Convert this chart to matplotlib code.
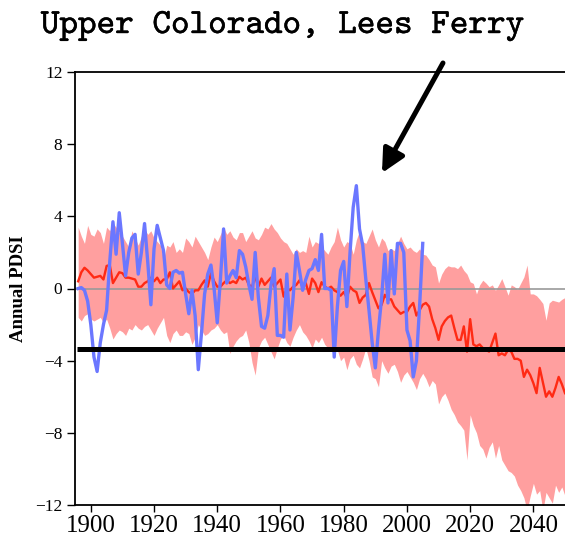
import numpy as np
import matplotlib
matplotlib.use("Agg")
import matplotlib.pyplot as plt
import matplotlib.patheffects as pe

# Model period (annual)
model_years = np.arange(1896, 2051)

ens_mean = [
    0.4, 0.9, 1.15, 1.0, 0.8, 0.6, 0.65, 0.7, 0.5, 1.25,          # 1896-1905
    1.3, 0.3, 0.6, 0.9, 0.85, 0.6, 0.6, 0.55, 0.5, 0.1,           # 1906-1915
    0.1, 0.3, 0.4, 0.6, 0.4, 0.6, 0.3, 0.5, 0.5, 0.9,             # 1916-1925
    0.0, 0.2, 0.4, -0.1, 0.0, -0.2, -0.3, -0.1, -0.1, 0.2,        # 1926-1935
    0.45, 0.1, 0.85, 0.4, 0.1, 0.1, 0.3, 0.45, 0.3, 0.4,          # 1936-1945
    0.3, 0.65, 0.5, 0.6, 0.2, 0.1, 0.65, 0.1, 0.55, 0.2,          # 1946-1955
    0.4, 0.6, 0.1, 0.3, 0.5, -0.45, 0.0, -0.1, 0.1, 0.2,          # 1956-1965
    0.45, 0.1, 0.3, -0.3, 0.55, 0.3, -0.2, 0.35, 0.1, 0.0,        # 1966-1975
    0.1, -0.1, -0.2, -0.4, -0.2, -0.5, 0.1, -0.1, -0.2, -0.8,     # 1976-1985
    -0.5, -0.35, 0.3, -0.2, -0.65, -1.1, -0.9, -0.35, -0.6, -0.6, # 1986-1995
    -1.0, -1.2, -1.4, -1.3, -1.3, -1.0, -0.8, -1.5, -1.2, -0.9,   # 1996-2005
    -0.8, -1.0, -1.7, -2.2, -2.85, -2.1, -1.8, -1.6, -1.5, -2.2,  # 2006-2015
    -2.85, -2.85, -2.1, -3.5, -1.7, -3.1, -3.2, -3.1, -3.3, -3.4, # 2016-2025
    -3.5, -3.0, -2.5, -3.7, -3.6, -3.7, -3.4, -3.5, -3.9, -3.9,   # 2026-2035
    -4.0, -4.9, -4.5, -4.8, -5.25, -5.8, -4.4, -5.2, -6.0, -5.7,  # 2036-2045
    -6.0, -5.5, -4.9, -5.3, -5.8,                                 # 2046-2050
]

ens_upper = [
    3.4, 2.9, 2.5, 3.5, 3.0, 2.9, 3.3, 3.1, 2.5, 3.4,
    3.2, 3.6, 3.4, 3.1, 2.9, 2.6, 2.3, 3.2, 2.8, 2.4,
    2.9, 3.3, 3.0, 3.2, 2.8, 2.6, 2.4, 1.6, 2.4, 2.3,
    2.6, 2.0, 2.2, 2.0, 2.8, 2.6, 2.3, 2.9, 2.6, 2.3,
    2.0, 1.6, 2.3, 2.85, 2.6, 3.0, 3.4, 3.0, 3.2, 2.85,
    2.7, 3.1, 3.1, 2.6, 2.9, 3.2, 2.8, 2.7, 3.0, 3.4,
    3.3, 3.6, 3.3, 3.1, 2.8, 2.6, 2.5, 2.2, 1.9, 2.2,
    2.0, 2.1, 2.0, 2.9, 2.3, 2.6, 2.5, 2.3, 2.1, 1.9,
    2.3, 2.6, 3.4, 2.7, 2.3, 2.6, 2.5, 1.9, 2.7, 3.2,
    2.6, 2.5, 2.9, 3.3, 2.7, 2.3, 2.8, 2.6, 2.1, 2.2,
    2.1, 2.5, 2.9, 2.5, 2.2, 2.3, 2.1, 2.0, 2.2, 1.9,
    1.85, 1.6, 1.3, 1.2, 0.3, 0.8, 1.1, 1.26, 1.2, 1.2,
    1.1, 1.3, 1.0, 0.8, 0.37, 0.28, -0.3, 0.2, 0.46, 0.3,
    0.1, 0.2, -0.1, 0.2, 0.55, 0.1, -0.37, 0.2, 0.1, -0.05,
    0.3, 0.64, 1.3, -0.3, -0.3, -0.4, -0.6, -0.83, -1.76, -0.8,
    -0.65, -0.7, -0.75, -0.6, -0.5,
]

ens_lower = [
    -1.6, -1.8, -1.5, -1.4, -1.7, -1.8, -1.7, -1.6, -1.9, -1.7,
    -2.2, -2.8, -2.5, -2.3, -2.4, -2.6, -2.2, -2.3, -2.0, -2.2,
    -2.3, -2.1, -2.0, -2.3, -2.6, -2.2, -1.9, -1.6, -2.6, -3.0,
    -2.5, -2.3, -2.6, -2.6, -2.4, -2.5, -3.1, -2.7, -2.0, -2.3,
    -2.6, -2.5, -2.3, -2.2, -2.0, -2.3, -2.5, -2.4, -3.6, -3.2,
    -2.9, -2.7, -2.6, -2.3, -3.0, -4.1, -4.8, -3.3, -2.9, -2.7,
    -3.1, -3.5, -3.9, -3.3, -2.8, -2.6, -3.0, -3.2, -2.7, -2.3,
    -2.0, -2.4, -2.6, -2.9, -3.3, -2.8, -3.0, -2.7, -3.1, -3.3,
    -3.5, -3.0, -3.4, -4.0, -3.8, -4.5, -3.9, -3.7, -4.2, -4.4,
    -3.9, -3.3, -4.0, -4.9, -5.0, -5.45, -4.0, -4.4, -4.7, -4.3,
    -4.2, -4.6, -5.2, -4.8, -4.6, -4.9, -5.2, -5.6, -5.0, -4.7,
    -5.0, -5.45, -5.1, -5.3, -6.4, -6.0, -5.8, -6.2, -6.7, -7.0,
    -7.4, -7.6, -7.85, -9.5, -7.0, -7.6, -8.0, -8.7, -8.9, -9.4,
    -8.8, -8.5, -9.4, -8.7, -9.5, -9.8, -10.1, -10.2, -10.4, -10.9,
    -11.2, -11.6, -12.3, -11.5, -10.8, -11.4, -11.2, -12.3, -11.3, -11.6,
    -11.9, -10.9, -11.3, -11.0, -11.5,
]

# Observed annual PDSI
obs_years = np.arange(1896, 2006)
obs_pdsi = [
    0.0, 0.05, -0.1, -0.7, -2.0, -3.8, -4.6, -3.0, -2.0, -1.2,    # 1896-1905
    1.5, 3.7, 1.9, 4.2, 2.5, 0.7, 2.0, 2.8, 3.0, 0.8,             # 1906-1915
    2.0, 3.6, 1.5, -0.9, 2.2, 3.5, 2.8, 2.1, 0.2, 0.0,            # 1916-1925
    0.9, 1.0, 0.85, 0.9, -0.3, -1.4, -0.1, -1.5, -4.5, -2.5,      # 1926-1935
    -0.3, 0.8, 1.3, 0.0, -1.9, 0.5, 3.3, 0.3, 0.7, 1.0,           # 1936-1945
    0.6, 2.1, 1.9, 1.2, 0.2, -0.6, 2.0, -0.5, -2.1, -2.2,         # 1946-1955
    -1.5, 0.2, 1.1, -2.6, -2.6, -2.7, 0.8, -2.3, -0.5, 2.0,       # 1956-1965
    1.0, -0.1, 0.5, 1.0, 1.1, 1.6, 1.0, 3.0, 0.0, 0.0,            # 1966-1975
    -0.1, -3.8, -1.0, 1.0, 1.5, -1.0, 2.0, 4.5, 5.7, 3.3,         # 1976-1985
    2.4, 0.5, -1.2, -3.0, -4.4, -2.3, -0.5, 1.9, -0.8, 2.1,       # 1986-1995
    -0.3, 2.5, 2.5, 2.0, -2.3, -2.9, -4.9, -4.0, -1.0, 2.5,       # 1996-2005
]

drought_level = -3.35
x_ticks = [1900, 1920, 1940, 1960, 1980, 2000, 2020, 2040]
y_ticks = [-12, -8, -4, 0, 4, 8, 12]

fig = plt.figure(figsize=(5.65, 5.4), dpi=100)
ax = fig.add_axes([75 / 565, 35 / 540, 490 / 565, 433 / 540])

ax.fill_between(model_years, ens_lower, ens_upper, color="#ff9f9f",
                linewidth=0, zorder=1)
ax.axhline(0, color="#9a9a9a", lw=1.2, zorder=2)
ax.plot(model_years, ens_mean, color="#ff2a14", lw=1.7, zorder=3)
ax.plot(obs_years, obs_pdsi, color="#6b77ff", lw=2.4, zorder=4)
ax.hlines(drought_level, 1895.6, 2050, color="black", lw=3.6, zorder=5)

ax.set_xlim(1895, 2050)
ax.set_ylim(-12, 12)
ax.set_xticks(x_ticks)
ax.set_yticks(y_ticks)
ax.set_yticklabels([f"{v}".replace("-", "\u2212") for v in y_ticks])

ax.spines["right"].set_visible(False)
for side in ("left", "top", "bottom"):
    ax.spines[side].set_linewidth(1.3)

ax.tick_params(axis="y", direction="out", length=6, width=1.0, pad=3,
               labelsize=12.5)
ax.tick_params(axis="x", direction="out", length=5, width=1.0, pad=2,
               labelsize=18)
for lab in ax.get_xticklabels() + ax.get_yticklabels():
    lab.set_fontfamily("Liberation Serif")

ax.set_ylabel("Annual PDSI", fontfamily="Liberation Serif",
              fontweight="bold", fontsize=13.5, labelpad=6)

title = fig.text(0.5, 1 - 26 / 540, "Upper Colorado, Lees Ferry",
                 ha="center", va="center", fontsize=25.5, family="cmtt10")
title.set_path_effects([pe.withStroke(linewidth=0.3, foreground="black")])

ax.annotate("", xy=(1992.1, 6.4), xytext=(2011.4, 12.5),
            xycoords="data", textcoords="data", annotation_clip=False,
            arrowprops=dict(arrowstyle="-|>,head_length=1.4,head_width=0.7",
                            lw=3.6, color="black", shrinkA=0, shrinkB=0),
            zorder=6)

fig.savefig("out.png", dpi=100)
